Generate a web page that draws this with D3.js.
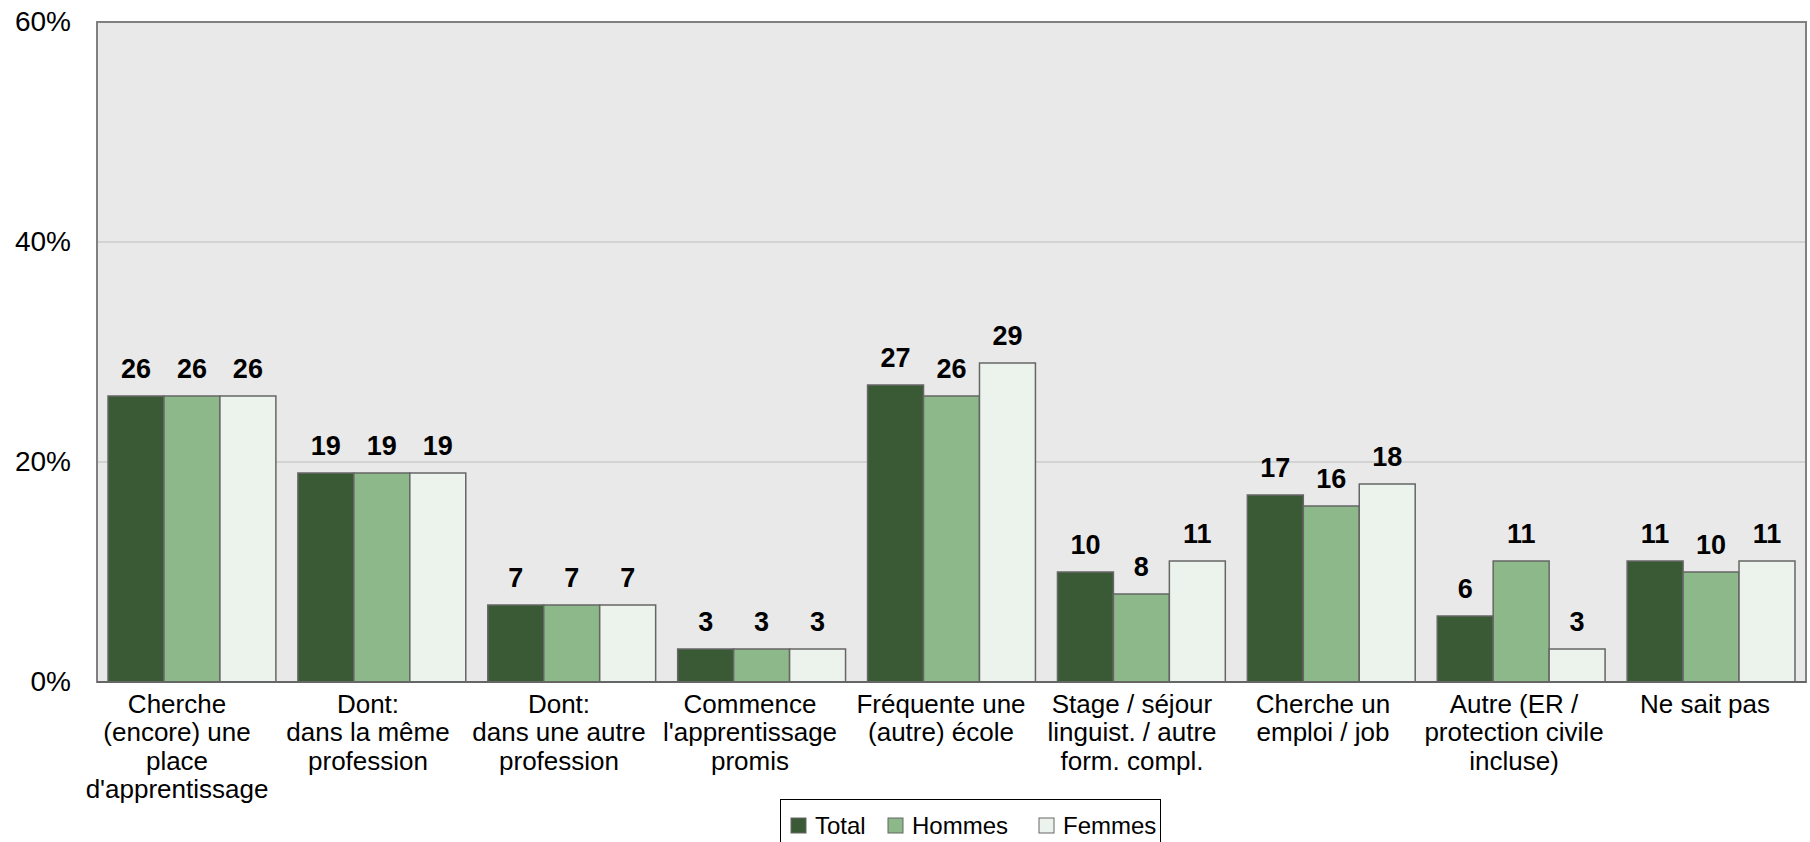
<!DOCTYPE html>
<html><head><meta charset="utf-8">
<script src="https://cdn.jsdelivr.net/npm/d3@7"></script>
<style>body{margin:0;background:#fff}svg{display:block}text{font-family:"Liberation Sans",Arial,sans-serif}</style>
</head><body>
<script>
const categories = [
  ["Cherche","(encore) une","place","d'apprentissage"],
  ["Dont:","dans la même","profession"],
  ["Dont:","dans une autre","profession"],
  ["Commence","l'apprentissage","promis"],
  ["Fréquente une","(autre) école"],
  ["Stage / séjour","linguist. / autre","form. compl."],
  ["Cherche un","emploi / job"],
  ["Autre (ER /","protection civile","incluse)"],
  ["Ne sait pas"]
];
const seriesNames = ["Total","Hommes","Femmes"];
const totalValues  = [26,19,7,3,27,10,17,6,11];
const hommesValues = [26,19,7,3,26,8,16,11,10];
const femmesValues = [26,19,7,3,29,11,18,3,11];
const yTicks = [0,20,40,60];
const colors = ["#3a5a35","#8db889","#ecf3ec"];

const W=1810,H=842;
const pLeft=97,pRight=1806,pTop=22,pBottom=682;
const svg=d3.select("body").append("svg").attr("width",W).attr("height",H);

const idx=d3.range(categories.length);
const x0=d3.scaleBand().domain(idx).range([pLeft,pRight]).paddingInner(0.116).paddingOuter(0.058);
const x1=d3.scaleBand().domain(seriesNames).range([0,x0.bandwidth()]);
const xLab=d3.scaleBand().domain(idx).range([81.5,1800.5]);
const y=d3.scaleLinear().domain([0,60]).range([pBottom,pTop]);

svg.append("rect").attr("x",pLeft).attr("y",pTop).attr("width",pRight-pLeft).attr("height",pBottom-pTop)
  .attr("fill","#e9e9e9");

// gridlines
svg.append("g").selectAll("line").data(yTicks.filter(d=>d>0&&d<60)).join("line")
  .attr("x1",pLeft).attr("x2",pRight).attr("y1",d=>y(d)).attr("y2",d=>y(d))
  .attr("stroke","#bdbdbd").attr("stroke-width",1);

// y axis labels
const yAxis=d3.axisLeft(y).tickValues(yTicks).tickFormat(d=>d+"%").tickSize(0).tickPadding(26);
const ga=svg.append("g").attr("transform",`translate(${pLeft},0)`).call(yAxis);
ga.select(".domain").remove();
ga.selectAll("text").attr("font-size",28).attr("fill","#000").attr("font-family","Liberation Sans, Arial, sans-serif");

const data=idx.map(i=>({i,vals:[totalValues[i],hommesValues[i],femmesValues[i]]}));
const groups=svg.append("g").selectAll("g").data(data).join("g")
  .attr("transform",d=>`translate(${x0(d.i)},0)`);
groups.selectAll("rect").data(d=>d.vals.map((v,k)=>({v,k}))).join("rect")
  .attr("x",d=>x1(seriesNames[d.k])).attr("width",x1.bandwidth())
  .attr("y",d=>y(d.v)).attr("height",d=>y(0)-y(d.v))
  .attr("fill",d=>colors[d.k]).attr("stroke","#666").attr("stroke-width",1.5);
groups.selectAll("text").data(d=>d.vals.map((v,k)=>({v,k}))).join("text")
  .attr("x",d=>x1(seriesNames[d.k])+x1.bandwidth()/2).attr("y",d=>y(d.v)-18.5)
  .attr("text-anchor","middle").attr("font-size",27).attr("font-weight","bold").text(d=>d.v);

// frame
svg.append("rect").attr("x",pLeft).attr("y",pTop).attr("width",pRight-pLeft).attr("height",pBottom-pTop)
  .attr("fill","none").attr("stroke","#808080").attr("stroke-width",2);
svg.append("line").attr("x1",pLeft).attr("x2",pRight).attr("y1",pBottom).attr("y2",pBottom)
  .attr("stroke","#666").attr("stroke-width",2);

// category labels
const cl=svg.append("g").selectAll("text").data(idx).join("text")
  .attr("text-anchor","middle").attr("font-size",26)
  .attr("transform",i=>`translate(${xLab(i)+xLab.bandwidth()/2},713)`);
cl.selectAll("tspan").data(i=>categories[i]).join("tspan")
  .attr("x",0).attr("y",(d,j)=>j*28.3).text(d=>d);

// legend
const lg=svg.append("g");
lg.append("rect").attr("x",780.5).attr("y",799.5).attr("width",380).attr("height",60)
  .attr("fill","#fff").attr("stroke","#000").attr("stroke-width",1);
const legX=[791,888,1039];
seriesNames.forEach((s,k)=>{
  lg.append("rect").attr("x",legX[k]).attr("y",818).attr("width",15).attr("height",15)
    .attr("fill",colors[k]).attr("stroke","#666").attr("stroke-width",1);
  lg.append("text").attr("x",legX[k]+24).attr("y",834).attr("font-size",24).text(s);
});
</script>
</body></html>
